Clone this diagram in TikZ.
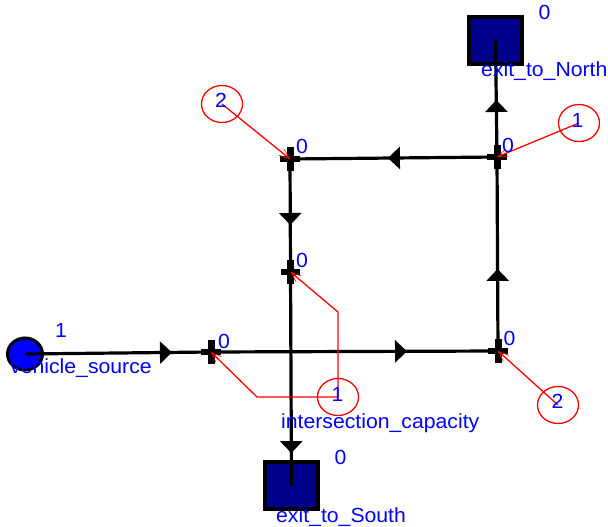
\documentclass[tikz,border=0pt]{standalone}
\usepackage{fontspec}
\setmainfont{Liberation Sans}[FakeStretch=1.04]
\usetikzlibrary{arrows.meta,decorations.markings,shapes.geometric}
\definecolor{navyfill}{RGB}{0,0,139}
\definecolor{lblue}{RGB}{0,0,255}
\begin{document}
\begin{tikzpicture}[x=1pt,y=-1pt,
  txt/.style={text=lblue, font=\fontsize{20.4}{24}\selectfont, inner sep=0pt},
  trans/.style={rectangle, minimum width=19pt, minimum height=23pt, inner sep=0pt},
  exitbox/.style={rectangle, draw=black, fill=navyfill, line width=4pt, minimum width=53pt, minimum height=47pt, inner sep=0pt},
  srcnode/.style={ellipse, draw=black, fill=blue, line width=3pt, minimum width=35pt, minimum height=32pt, inner sep=0pt},
  capnode/.style={ellipse, draw=red, line width=1.3pt, minimum width=41pt, minimum height=37pt, inner sep=0pt},
  flow/.style={draw=black, line width=3.2pt},
  redarc/.style={draw=red, line width=1.3pt, -{Straight Barb[length=10pt,width=8pt,line width=0.6pt]}},
  midarrow/.style={postaction={decorate,decoration={markings,mark=at position #1 with {\arrow{Triangle[length=12pt,width=22pt]}}}}}
]
\useasboundingbox (0,0) rectangle (608,527);

% places and transitions
\node[srcnode] (src) at (25,354) {};
\node[trans] (A) at (211,352) {};
\node[trans] (B) at (498,351) {};
\node[trans] (C) at (497,157) {};
\node[trans] (D) at (290,159) {};
\node[trans] (E) at (290.5,272) {};
\node[exitbox] (N) at (495.5,40.5) {};
\node[exitbox] (S) at (291.5,485.5) {};
\node[capnode] (capD) at (222,104) {};
\node[capnode] (capC) at (579,123) {};
\node[capnode] (icap) at (338,397) {};
\node[capnode] (capB) at (558,405) {};

\foreach \t in {A,B,C,D,E} {
  \fill[black] ([xshift=-3.5pt]\t.north) rectangle ([xshift=3.5pt]\t.south);
  \fill[black] ([yshift=-3pt]\t.west) rectangle ([yshift=3pt]\t.east);
}

% black arcs
\draw[flow, midarrow=0.79] (src.center) -- (A.center);
\draw[flow, midarrow=0.683] (A.center) -- (B.center);
\draw[flow, midarrow=0.423] (B.center) -- (C.center);
\draw[flow, midarrow=0.527] (C.center) -- (D.center);
\draw[flow, midarrow=0.584] (D.center) -- (E.center);
\draw[flow, midarrow=0.848] (E.center) -- (S.center);
\draw[flow, midarrow=0.489] (C.center) -- (N.center);

% red arcs
\draw[redarc] (capD.center) -- (D.center);
\draw[redarc] (capC.center) -- (C.center);
\draw[redarc] (capB.center) -- (B.center);
\draw[redarc] (icap.center) -- ++(0,-85) -- (E.center);
\draw[redarc] (icap.center) -- ++(-81,0) -- (A.center);

% labels
\node[txt, anchor=base] (tsrc) at (61,337) {1};
\node[txt, anchor=base west] (nsrc) at (10,373) {vehicle\_source};
\node[txt, anchor=base] (tA) at (224,348) {0};
\node[txt, anchor=base] (tB) at (509.5,345) {0};
\node[txt, anchor=base] (tC) at (508,152) {0};
\node[txt, anchor=base] (tD) at (302,153) {0};
\node[txt, anchor=base] (tE) at (302,267) {0};
\node[txt, anchor=base] (tN) at (544.5,20) {0};
\node[txt, anchor=base west] (nN) at (481,77) {exit\_to\_North};
\node[txt, anchor=base] (tS) at (340.5,464) {0};
\node[txt, anchor=base west] (nS) at (276,522) {exit\_to\_South};
\node[txt, anchor=base west] (nicap) at (281,428) {intersection\_capacity};
\node[txt, anchor=base] (tcapD) at (221,107) {2};
\node[txt, anchor=base] (tcapC) at (577.5,127) {1};
\node[txt, anchor=base] (ticap) at (337.5,401) {1};
\node[txt, anchor=base] (tcapB) at (557.5,408) {2};
\end{tikzpicture}
\end{document}
